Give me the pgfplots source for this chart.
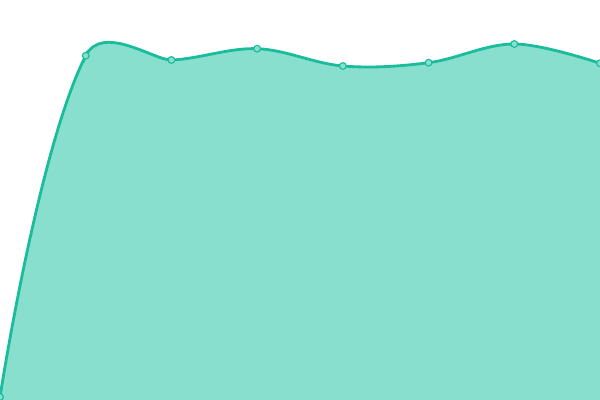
\documentclass[border=0pt]{standalone}
\usepackage{pgfplots}
\pgfplotsset{compat=1.18}
\definecolor{turq}{HTML}{1ABC9C}
\definecolor{turqfill}{HTML}{89DFCE}

\pgfplotstableread{
x y
0 3
1 344.3
2 340
3 351.3
4 334
5 337.3
6 356
7 336.7
}\datatable

% the curve is drawn in three overlaid pieces so that each span gets its own tension
\pgfplotsset{
  piece/.style={
    height=10cm, scale only axis, hide axis,
    ymin=0, ymax=400, clip=true, anchor=south west,
  },
}

\begin{document}
\begin{tikzpicture}
\begin{axis}[piece, at={(0cm,0cm)}, width=2.185714cm, xmin=0, xmax=1.02]
\addplot[draw=none, fill=turqfill, smooth, tension=1.0] table {\datatable} \closedcycle;
\addplot[turq, line width=2pt, smooth, tension=1.0, no marks] table {\datatable};
\end{axis}
\begin{axis}[piece, at={(2.1cm,0cm)}, width=2.228571cm, xmin=0.98, xmax=2.02]
\addplot[draw=none, fill=turqfill, smooth, tension=0.35] table {\datatable} \closedcycle;
\addplot[turq, line width=2pt, smooth, tension=0.35, no marks] table {\datatable};
\end{axis}
\begin{axis}[piece, at={(4.242857cm,0cm)}, width=10.757143cm, xmin=1.98, xmax=7]
\addplot[draw=none, fill=turqfill, smooth, tension=0.6] table {\datatable} \closedcycle;
\addplot[turq, line width=2pt, smooth, tension=0.6, no marks] table {\datatable};
\end{axis}
\begin{axis}[piece, name=main, at={(0cm,0cm)}, width=15cm, xmin=0, xmax=7]
\addplot[only marks, mark=*, mark size=2.4pt,
  mark options={fill=turqfill, draw=turq, line width=0.8pt}] table {\datatable};
\end{axis}
\pgfresetboundingbox
\useasboundingbox (main.south west) rectangle (main.north east);
\end{tikzpicture}
\end{document}
